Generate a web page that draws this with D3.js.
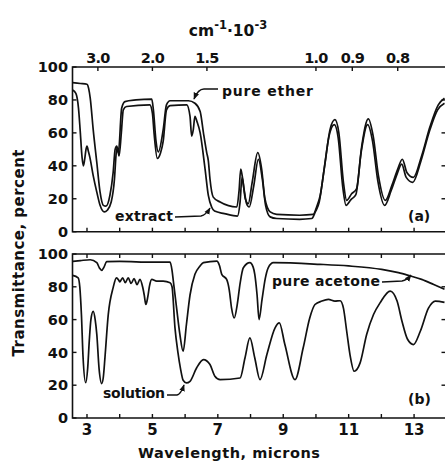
<!DOCTYPE html>
<html><head><meta charset="utf-8">
<script src="https://cdn.jsdelivr.net/npm/d3@7"></script>
<style>
html,body{margin:0;padding:0;background:#fff;}
text{font-family:"DejaVu Sans",sans-serif;font-weight:bold;fill:#111;}
</style></head>
<body>
<svg id="c" width="445" height="463"></svg>
<script>
// ---------- DATA ----------
const micronTicks = [3,4,5,6,7,8,9,10,11,12,13];
const micronLabels = [3,5,7,9,11,13];
const wavenumberTicks = [3.0,2.0,1.5,1.0,0.9,0.8];      // cm^-1 * 10^-3
const wavenumberLabels = ["3.0","2.0","1.5","1.0","0.9","0.8"];
const percentTicks = [0,20,40,60,80,100];

// panel (a): pure ether
const etherWl = [2.56,2.8,3.0,3.05,3.1,3.19,3.3,3.4,3.5,3.58,3.7,3.8,3.86,3.91,3.96,4.06,4.16,4.5,4.98,5.03,5.11,5.18,5.33,5.43,5.54,6.1,6.3,6.46,6.56,6.66,6.71,6.76,6.86,7.07,7.58,7.65,7.70,7.76,7.84,7.93,8.05,8.22,8.34,8.44,8.6,8.8,9.5,9.92,10.02,10.13,10.28,10.43,10.58,10.70,10.84,10.94,11.09,11.24,11.40,11.6,11.75,11.91,12.12,12.32,12.5,12.64,12.78,12.98,13.23,13.49,13.74,13.93];
const etherT  = [90.5,90,89.5,87,81,62,42,24,16,15.5,22,36,50,52,48,75,79,80,80.5,74,55,48.5,62,77,79.5,79.5,78,73,60,48,43,32,21,18,15,25,38,32,20,17,30,48,38,20,12,10.5,10,10.5,15,22,42,62,68,60,30,19,23,26,52,68.5,58,34,19,28,38,44,36,33,46,64,77,81];
// panel (a): extract
const extractWl = [2.56,2.66,2.74,2.79,2.85,2.89,2.93,2.97,3.0,3.04,3.09,3.19,3.3,3.4,3.53,3.62,3.74,3.84,3.89,3.93,3.98,4.05,4.11,4.21,4.92,5.0,5.05,5.15,5.25,5.33,5.43,5.54,6.05,6.15,6.2,6.25,6.3,6.36,6.46,6.61,6.71,6.81,6.9,7.2,7.6,7.68,7.74,7.8,7.88,7.96,8.1,8.24,8.36,8.46,8.6,8.8,9.5,9.87,9.98,10.1,10.25,10.4,10.56,10.68,10.82,10.92,11.07,11.22,11.38,11.58,11.73,11.89,12.1,12.3,12.48,12.62,12.76,12.96,13.21,13.47,13.72,13.93];
const extractT  = [86,84,75,62,45,40,44,50,52,49,45,34,24,16,12,13,18,32,47,51,46,60,74,76,77,72,60,44.5,48,55,74,76.5,77,70,58,62,70,67,60,38,22,15,12.5,11,9.5,18,33,26,17,15,28,44,32,16,9,8,7.5,8,12,18,38,58,65,57,27,16,19.5,22.5,48,65,55,31,16,25,35,41,33,30,43,61,74,78];
// panel (b): pure acetone
const acetoneWl = [2.56,2.8,3.1,3.3,3.38,3.45,3.52,3.6,4.0,5.0,5.54,5.6,5.64,5.74,5.84,5.94,6.04,6.15,6.3,6.45,6.56,6.97,7.05,7.12,7.27,7.35,7.42,7.5,7.6,7.68,7.78,7.98,8.08,8.13,8.2,8.26,8.35,8.45,8.54,8.7,10.12,11.0,12.01,12.52,12.88,13.23,13.6,13.93];
const acetoneT  = [95.5,96,96.5,94.7,91.5,90,92,95.3,95.5,95,95,90,83.5,67,51,40.7,57,75,87.6,92.5,94.7,95.7,93,87.6,84.5,78,67,61,70,82,91.6,94.7,92,87.6,75,60,72,85,91.6,94.7,93.7,92.7,90.6,88.6,86.6,84.5,81.4,78.5];
// panel (b): solution
const solutionWl = [2.56,2.73,2.78,2.83,2.88,2.96,3.02,3.07,3.12,3.19,3.25,3.3,3.37,3.45,3.5,3.55,3.65,3.8,3.9,3.97,4.0,4.09,4.17,4.26,4.35,4.44,4.53,4.62,4.7,4.75,4.8,4.86,4.91,4.98,5.13,5.33,5.54,5.6,5.69,5.78,5.86,5.94,6.04,6.15,6.35,6.56,6.76,6.91,7.07,7.68,7.83,7.98,8.13,8.29,8.5,8.75,8.88,9.05,9.36,9.61,9.81,9.97,10.18,10.38,10.58,10.74,10.84,10.94,11.04,11.17,11.35,11.55,11.76,11.96,12.27,12.48,12.63,12.8,12.98,13.19,13.44,13.65,13.93];
const solutionT  = [87,85.5,80,63,37,21.5,30,47,60,65,60,51,30,21,25,37,63,79.5,85.5,84,83,85.5,82.5,85.5,82,85,81.3,84.5,80,75,69.2,74,80.4,84.5,83.5,83.5,82.5,80,55,40,30,23,21.4,22.4,30.5,35.6,32.6,25.5,23.4,24.4,36.6,48.8,36.6,23.4,38.7,55,58,44.8,23.4,42.8,61,69.2,71.3,72.3,71.3,71.5,67,52.9,38.7,28.5,33.6,50.9,63.1,70.2,77.4,71.3,59,48,44.8,52.9,67,71.3,70.5];

// ---------- CHART ----------
const svg = d3.select("#c");
const L = 72.5, R = 444.5;
const x = d3.scaleLinear().domain([2.557, 13.93]).range([L, R]);
const yA = d3.scaleLinear().domain([0,100]).range([231.7, 67]);
const yB = d3.scaleLinear().domain([0,100]).range([418, 254]);
const black = "#111";
const wnToMicron = d => 10 / d;   // (cm^-1 * 10^-3) -> microns

svg.append("defs").append("marker")
  .attr("id","arr").attr("viewBox","0 0 10 10").attr("refX",9).attr("refY",5)
  .attr("markerWidth",7).attr("markerHeight",7).attr("orient","auto-start-reverse")
  .attr("markerUnits","userSpaceOnUse")
  .append("path").attr("d","M0,1 L10,5 L0,9 Z").attr("fill",black);

function frame(y, topPos, topVals) {
  const g = svg.append("g");
  const y0 = y.range()[0], y1 = y.range()[1];
  g.append("path").attr("d",`M${R+2},${y1}H${L}V${y0}H${R+2}`)
    .attr("fill","none").attr("stroke",black).attr("stroke-width",1.6);
  g.selectAll(null).data(micronTicks).join("line")
    .attr("x1",d=>x(d)).attr("x2",d=>x(d)).attr("y1",y0).attr("y2",y0-4)
    .attr("stroke",black).attr("stroke-width",1.4);
  g.selectAll(null).data(topVals).join("line")
    .attr("x1",d=>topPos(d)).attr("x2",d=>topPos(d)).attr("y1",y1).attr("y2",y1+4)
    .attr("stroke",black).attr("stroke-width",1.4);
  g.selectAll(null).data(percentTicks).join("line")
    .attr("x1",L).attr("x2",L+4).attr("y1",d=>y(d)).attr("y2",d=>y(d))
    .attr("stroke",black).attr("stroke-width",1.4);
  g.selectAll(null).data(percentTicks.slice(1,-1)).join("line")
    .attr("x1",R-3).attr("x2",R+1).attr("y1",d=>y(d)).attr("y2",d=>y(d))
    .attr("stroke",black).attr("stroke-width",1.4);
  g.selectAll(null).data(percentTicks).join("text")
    .attr("x",68).attr("y",d=>y(d)).attr("dy","0.36em")
    .attr("text-anchor","end").attr("font-size",14.5).text(d=>d);
}
frame(yA, d=>x(wnToMicron(d)), wavenumberTicks);
frame(yB, d=>x(d), micronTicks);

// top wavenumber labels
svg.selectAll(null).data(wavenumberTicks).join("text")
  .attr("x",d=>x(wnToMicron(d))).attr("y",63).attr("text-anchor","middle")
  .attr("font-size",14.5).attr("letter-spacing","-0.8")
  .text((d,i)=>wavenumberLabels[i]);
// top axis title
const tt = svg.append("text").attr("x",228).attr("y",36).attr("text-anchor","middle").attr("font-size",15.5);
tt.append("tspan").text("cm");
tt.append("tspan").attr("dy",-7).attr("font-size",11.5).text("-1");
tt.append("tspan").attr("dy",7).text("·10");
tt.append("tspan").attr("dy",-7).attr("font-size",11.5).text("-3");

// bottom micron labels
svg.selectAll(null).data(micronLabels).join("text")
  .attr("x",d=>x(d)).attr("y",435).attr("text-anchor","middle")
  .attr("font-size",15).text(d=>d);
svg.append("text").attr("x",229).attr("y",458).attr("text-anchor","middle")
  .attr("font-size",14.5).attr("textLength",182).attr("lengthAdjust","spacing")
  .text("Wavelength, microns");
svg.append("text").attr("transform","translate(24,253) rotate(-90)")
  .attr("text-anchor","middle").attr("font-size",15)
  .attr("textLength",207).attr("lengthAdjust","spacing")
  .text("Transmittance, percent");

// curves
function curve(wl, t, y) {
  const pts = wl.map((w,i)=>[w,t[i]]);
  svg.append("path").datum(pts)
    .attr("d", d3.line().x(d=>x(d[0])).y(d=>y(d[1])).curve(d3.curveMonotoneX))
    .attr("fill","none").attr("stroke",black).attr("stroke-width",1.7)
    .attr("stroke-linejoin","round");
}
curve(etherWl, etherT, yA);
curve(extractWl, extractT, yA);
curve(acetoneWl, acetoneT, yB);
curve(solutionWl, solutionT, yB);

// annotations
function label(txt, xx, yy, w) {
  svg.append("text").attr("x",xx).attr("y",yy).attr("font-size",14)
    .attr("textLength",w).attr("lengthAdjust","spacing").text(txt);
}
label("pure  ether", 222, 96, 91);
label("extract", 115, 221, 58);
label("solution", 103, 398, 62);
label("pure  acetone", 272, 286, 108);
svg.append("text").attr("x",408).attr("y",221).attr("font-size",14).text("(a)");
svg.append("text").attr("x",408).attr("y",404).attr("font-size",14).text("(b)");

function arrow(d) {
  svg.append("path").attr("d",d).attr("fill","none").attr("stroke",black)
    .attr("stroke-width",1.3).attr("marker-end","url(#arr)");
}
arrow("M218,89 L204,89 Q198,89 194,99");
arrow("M175,217 L201,216 Q206,215 210,208");
arrow("M167,395 L177,395 Q181,394 184,385");
arrow("M382,282 L402,281 Q407,280 411,275");
</script>
</body></html>
